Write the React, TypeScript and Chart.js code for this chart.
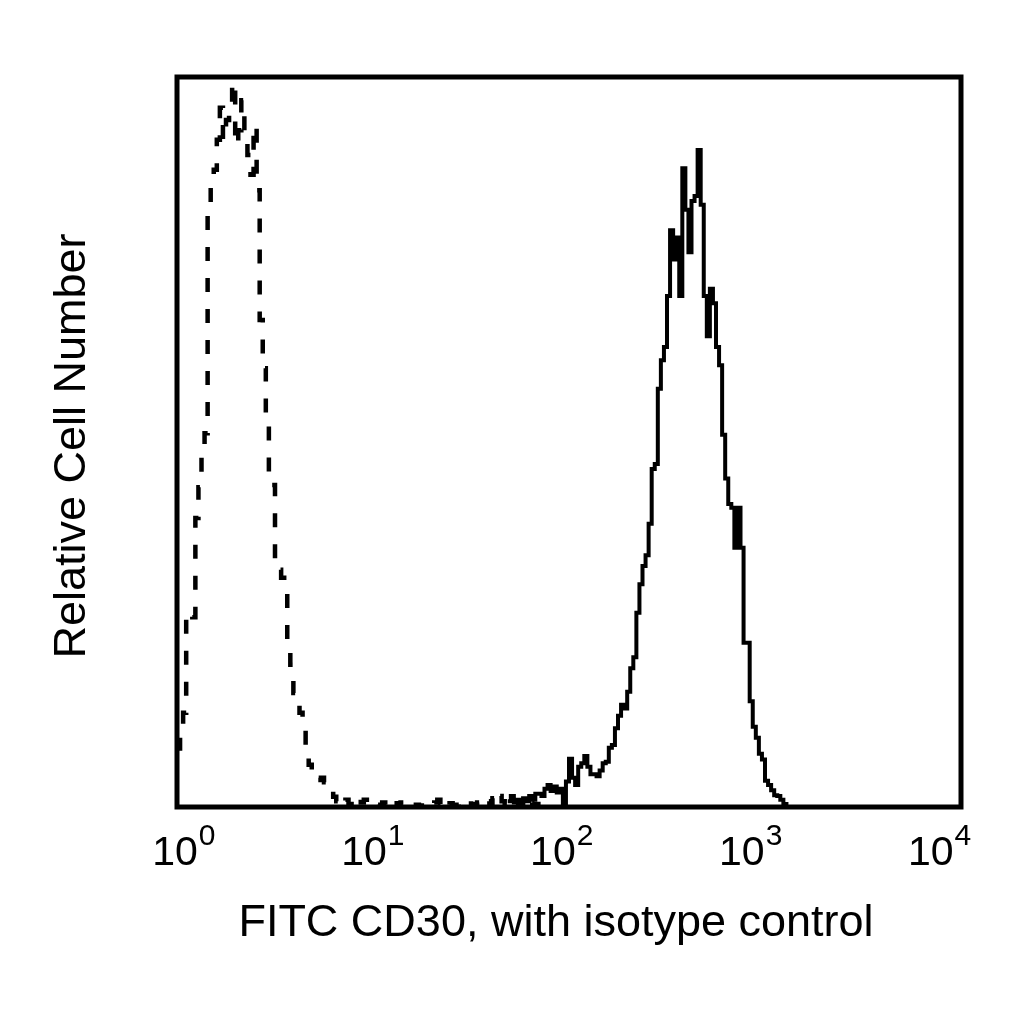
import { useEffect, useRef } from "react";
import { Chart, registerables } from "chart.js";

Chart.register(...registerables);

// 256-channel log histogram, 64 channels per decade (10^0 .. 10^4)
const CHANNELS_PER_DECADE = 64;
const TOTAL_CHANNELS = 256;
const tickExponents = ["0", "1", "2", "3", "4"];

// isotype control (dashed), channels 0..118
const isotypeFirstChannel = 0;
const isotypeCounts = [
  8.0, 9.9, 12.9, 26.0, 26.6, 26.0, 39.6, 43.8, 48.2, 51.2,
  82.5, 85.9, 87.3, 91.4, 95.8, 91.4, 94.1, 95.8, 99.3, 90.7,
  92.7, 96.8, 91.4, 89.3, 86.6, 93.4, 84.5, 66.7, 60.1, 53.0,
  44.1, 44.1, 33.8, 32.5, 31.4, 29.7, 22.2, 19.5, 15.6, 14.0,
  12.9, 10.5, 7.8, 5.8, 5.1, 4.2, 3.7, 4.0, 3.4, 3.4,
  2.3, 1.4, 0.8, 1.2, 0.6, 1.0, 0.4, 0.2, 0.8, 1.2,
  0.6, 1.0, 0.3, 0.2, 0.1, 0.3, 0.2, 0.6, 0.3, 0.7,
  0.2, 0.5, 0.2, 0.6, 0.3, 0.1, 0.2, 0, 0.3, 0.1,
  0.2, 0, 0.3, 0.2, 0.6, 1.0, 0.4, 0.9, 0.3, 0.5,
  0.2, 0.3, 0.5, 0.6, 0.5, 0.8, 0.4, 0.3, 0.6, 0.2,
  0.5, 0.8, 0.4, 1.2, 0.6, 1.5, 0.8, 0.5, 1.0, 0.6,
  0.4, 0.8, 0.5, 0.9, 0.3, 0.6, 0.2, 0.4, 0,
];

// FITC CD30 (solid), channels 108..199
const cd30FirstChannel = 108;
const cd30Counts = [
  0.8, 1.5, 0.6, 1.0, 0.5, 1.2, 0.8, 1.5, 1.0, 1.8,
  1.8, 1.5, 2.5, 3.0, 2.2, 2.8, 2.0, 2.5, 0.3, 3.5,
  6.6, 4.0, 3.0, 5.5, 6.0, 7.0, 5.5, 4.5, 4.5, 4.2,
  5.0, 6.0, 6.2, 8.1, 8.5, 10.8, 12.5, 14.0, 13.5, 15.8,
  19.0, 20.5, 26.6, 30.5, 33.0, 34.5, 38.8, 46.3, 47.0, 57.3,
  61.2, 63.0, 70.0, 79.0, 75.0, 78.0, 70.0, 87.5, 81.8, 76.0,
  83.0, 83.7, 90.0, 82.5, 70.0, 64.5, 71.0, 69.0, 63.0, 60.5,
  51.0, 45.0, 41.5, 41.0, 35.5, 41.0, 35.5, 22.5, 22.5, 14.5,
  11.0, 9.5, 7.3, 6.5, 3.6, 3.0, 2.3, 1.6, 1.5, 1.0,
  0.4, 0,
];

const FONT = '"Liberation Sans", Arial, Helvetica, sans-serif';
// tick labels in the figure sit on a slightly tighter pitch than the decades
const LABEL_PITCH_RATIO = 0.964;

const toPoints = (first: number, counts: number[]) =>
  counts.map((y, i) => ({ x: first + i, y }));

const framePlugin = {
  id: "frame",
  afterDatasetsDraw(chart: Chart) {
    const { ctx, chartArea } = chart;
    const xScale = chart.scales.x;
    const { left, top, right, bottom } = chartArea;
    ctx.save();

    // plot frame
    ctx.strokeStyle = "#000";
    ctx.lineWidth = 5;
    ctx.strokeRect(left, top, right - left, bottom - top);

    // decade labels 10^n
    ctx.fillStyle = "#000";
    ctx.textBaseline = "alphabetic";
    tickExponents.forEach((exp, i) => {
      const px = xScale.getPixelForValue(i * CHANNELS_PER_DECADE);
      const cx = left - 2 + (px - left) * LABEL_PITCH_RATIO;
      ctx.font = `41px ${FONT}`;
      const w = ctx.measureText("10").width;
      ctx.textAlign = "center";
      ctx.fillText("10", cx, 865);
      ctx.font = `30px ${FONT}`;
      ctx.textAlign = "left";
      ctx.fillText(exp, cx + w / 2 + 1, 845);
    });

    // axis titles
    ctx.font = `45px ${FONT}`;
    ctx.textAlign = "center";
    ctx.fillText("FITC CD30, with isotype control", 556, 936);

    ctx.translate(85, 446);
    ctx.rotate(-Math.PI / 2);
    ctx.fillText("Relative Cell Number", 0, 0);
    ctx.restore();
  },
};

export default function App() {
  const canvasRef = useRef<HTMLCanvasElement>(null);
  const chartInstance = useRef<Chart | null>(null);

  useEffect(() => {
    if (!canvasRef.current) return;
    if (chartInstance.current) chartInstance.current.destroy();

    chartInstance.current = new Chart(canvasRef.current, {
      type: "line",
      data: {
        datasets: [
          {
            label: "Isotype control",
            data: toPoints(isotypeFirstChannel, isotypeCounts),
            borderColor: "#000",
            borderWidth: 4.5,
            borderDash: [14, 17],
            stepped: "before",
            pointRadius: 0,
            fill: false,
          },
          {
            label: "FITC CD30",
            data: toPoints(cd30FirstChannel, cd30Counts),
            borderColor: "#000",
            borderWidth: 4,
            stepped: "before",
            pointRadius: 0,
            fill: false,
          },
        ],
      },
      options: {
        responsive: false,
        animation: false,
        devicePixelRatio: 1,
        layout: { padding: { left: 177, top: 77, right: 63, bottom: 217 } },
        plugins: {
          legend: { display: false },
          tooltip: { enabled: false },
        },
        scales: {
          x: { type: "linear", min: 0, max: TOTAL_CHANNELS, display: false },
          y: { type: "linear", min: 0, max: 100, display: false },
        },
      },
      plugins: [framePlugin],
    });

    return () => {
      if (chartInstance.current) {
        chartInstance.current.destroy();
        chartInstance.current = null;
      }
    };
  }, []);

  return (
    <div style={{ position: "fixed", left: 0, top: 0, width: 1024, height: 1024, background: "#fff" }}>
      <canvas ref={canvasRef} width={1024} height={1024} />
    </div>
  );
}
